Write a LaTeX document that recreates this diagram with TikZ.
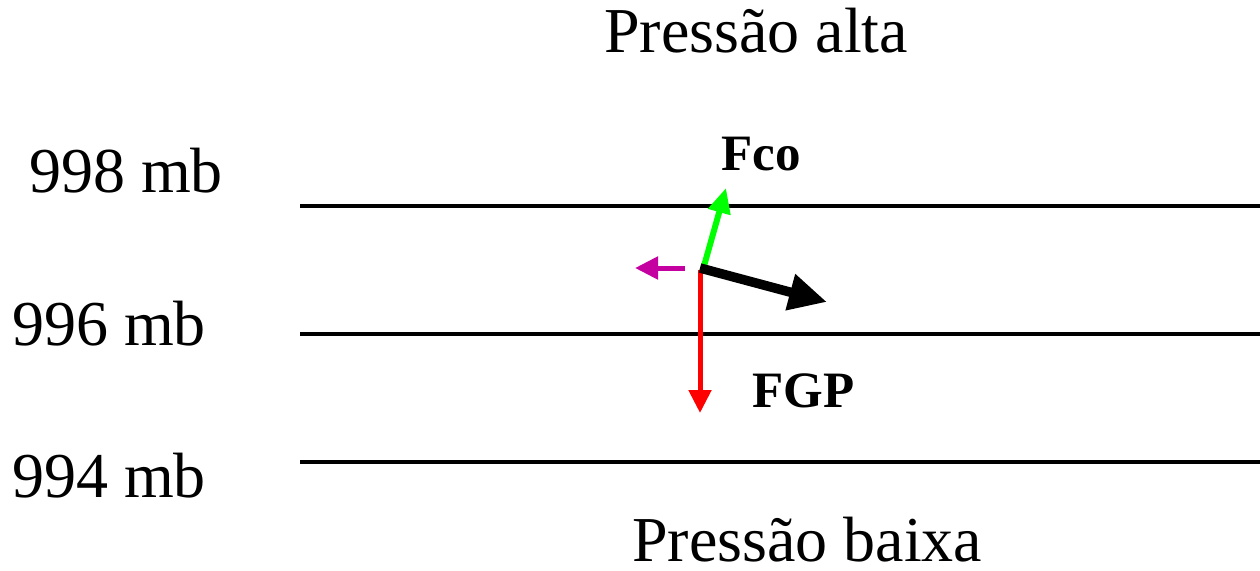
\documentclass[tikz,border=0pt]{standalone}
\usepackage{fontspec}
\setmainfont{Liberation Serif}
\usetikzlibrary{arrows.meta}
\definecolor{fgreen}{RGB}{0,255,0}
\definecolor{fred}{RGB}{255,0,0}
\definecolor{fmag}{RGB}{196,0,160}
\tikzset{
  lbl/.style={anchor=base west, inner sep=0pt, font=\fontsize{64}{70}\selectfont},
  flbl/.style={anchor=base west, inner sep=0pt, font=\fontsize{51}{56}\selectfont\bfseries},
  isobar/.style={line width=4.5pt, black},
}
\begin{document}
\begin{tikzpicture}[x=1pt,y=-1pt]
\useasboundingbox (0,0) rectangle (1260,570);
% texts
\node[lbl] (alta) at (604,52) {Pressão alta};
\node[lbl] (baixa) at (632,561) {Pressão baixa};
\node[lbl] (p998) at (29,192) {998 mb};
\node[lbl] (p996) at (12,345) {996 mb};
\node[lbl] (p994) at (12,497) {994 mb};
\node[flbl] (fco) at (721,170) {Fco};
\node[flbl] (fgp) at (752,407) {FGP};
% isobars
\coordinate (l1a) at (300,206); \coordinate (l1b) at (1260,206);
\coordinate (l2a) at (300,334); \coordinate (l2b) at (1260,334);
\coordinate (l3a) at (300,462); \coordinate (l3b) at (1260,462);
\draw[isobar] (l1a) -- (l1b);
\draw[isobar] (l2a) -- (l2b);
\draw[isobar] (l3a) -- (l3b);
% force vectors
\coordinate (g0) at (704,266); \coordinate (g1) at (726,188);
\coordinate (b0) at (700,268); \coordinate (b1) at (827,302);
\coordinate (m0) at (685,268); \coordinate (m1) at (635,268);
\coordinate (r0) at (700,270); \coordinate (r1) at (700,413);
\draw[fgreen, line width=6pt, -{Triangle[length=25pt,width=22pt]}] (g0) -- (g1);
\draw[fred, line width=5pt, -{Triangle[length=23pt,width=22pt]}] (r0) -- (r1);
\draw[fmag, line width=5pt, -{Triangle[length=23pt,width=22pt]}] (m0) -- (m1);
\draw[black, line width=9.5pt, -{Triangle[length=38pt,width=35pt]}] (b0) -- (b1);
\end{tikzpicture}
\end{document}
